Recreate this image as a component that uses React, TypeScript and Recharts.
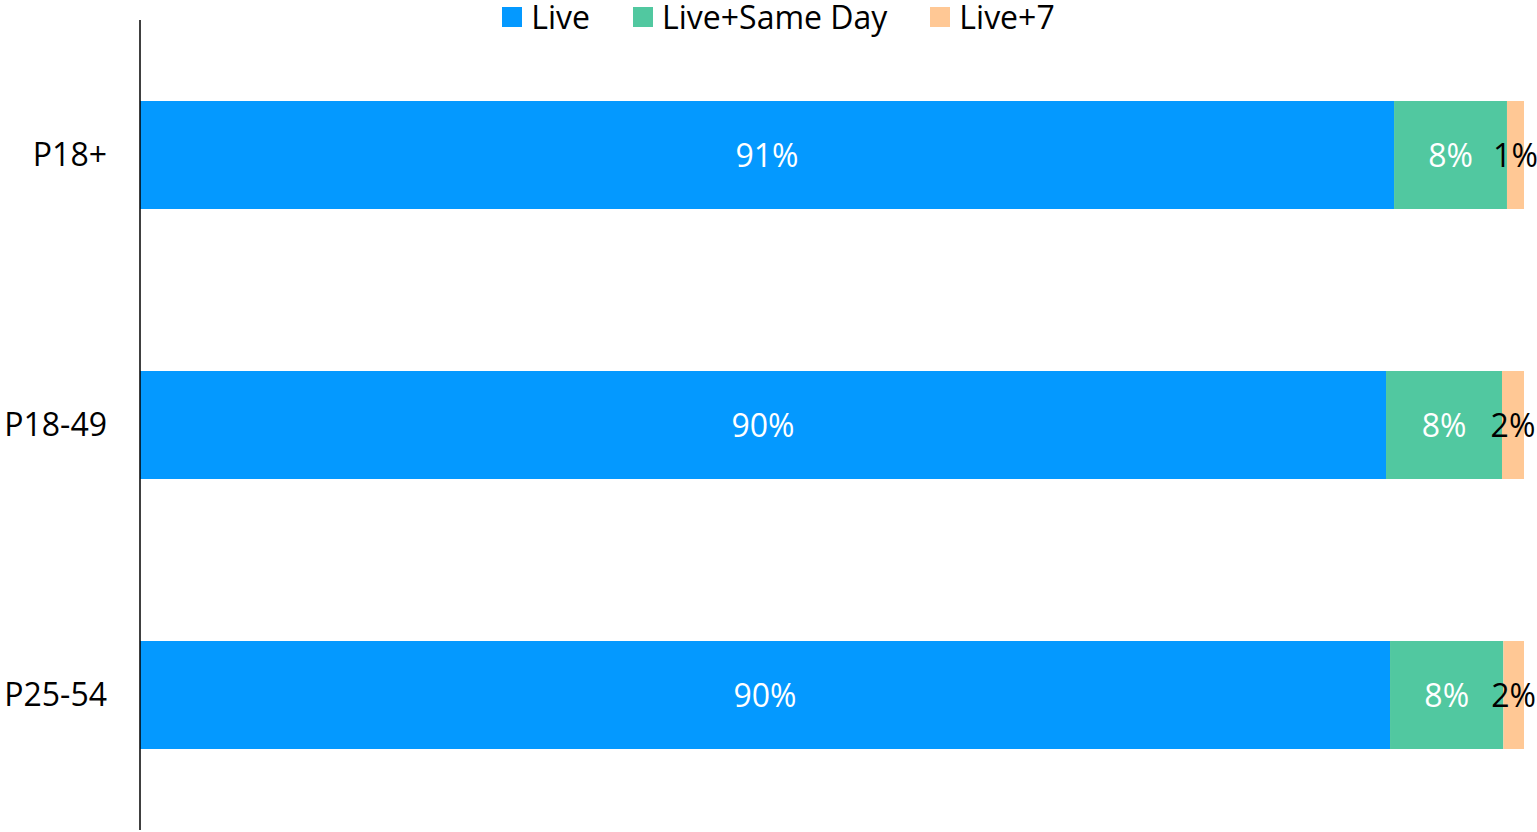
import React from 'react'
import { BarChart, Bar, XAxis, YAxis, Legend, LabelList } from 'recharts'

const categories = ['P18+', 'P18-49', 'P25-54']
const liveValues = [90.61, 90.03, 90.32]
const sameDayValues = [8.16, 8.38, 8.19]
const plus7Values = [1.23, 1.59, 1.64]

const seriesNames = ['Live', 'Live+Same Day', 'Live+7']
const colors = ['#0499FF', '#51C8A0', '#FFC895']

const data = categories.map((name, i) => ({
  name,
  live: liveValues[i],
  sameDay: sameDayValues[i],
  plus7: plus7Values[i]
}))

const fmt = (v: any) => `${Math.round(Number(v))}%`

const renderLegend = () => (
  <div style={{ display: 'flex', justifyContent: 'center', alignItems: 'center', fontSize: 32, color: '#000', lineHeight: '34px', height: 34 }}>
    {seriesNames.map((s, i) => (
      <div key={s} style={{ display: 'flex', alignItems: 'center', marginRight: i < seriesNames.length - 1 ? 43 : 0 }}>
        <span style={{ width: 20, height: 20, background: colors[i], display: 'inline-block', marginRight: 9 }} />
        <span>{s}</span>
      </div>
    ))}
  </div>
)

export default function App() {
  return (
    <div style={{ fontFamily: '"Open Sans", sans-serif' }}>
      <style>{'body { margin: 0; }'}</style>
      <BarChart
        width={1537}
        height={832}
        data={data}
        layout="vertical"
        margin={{ top: 20, right: 13, bottom: 2, left: 0 }}
        barCategoryGap="30%"
      >
        <XAxis type="number" domain={[0, 100]} allowDataOverflow hide />
        <YAxis
          type="category"
          dataKey="name"
          width={140}
          tickLine={false}
          tickSize={0}
          tickMargin={33}
          axisLine={{ stroke: '#000', strokeWidth: 1.5 }}
          tick={{ fill: '#000', fontSize: 32 }}
        />
        <Legend
          verticalAlign="middle"
          wrapperStyle={{ top: 0, left: 10, width: 1537 }}
          content={renderLegend}
        />
        <Bar dataKey="live" name="Live" stackId="a" fill={colors[0]} isAnimationActive={false}>
          <LabelList dataKey="live" position="center" formatter={fmt} fill="#fff" fontSize={32} dy={1} />
        </Bar>
        <Bar dataKey="sameDay" name="Live+Same Day" stackId="a" fill={colors[1]} isAnimationActive={false}>
          <LabelList dataKey="sameDay" position="center" formatter={fmt} fill="#fff" fontSize={32} dy={1} />
        </Bar>
        <Bar dataKey="plus7" name="Live+7" stackId="a" fill={colors[2]} isAnimationActive={false}>
          <LabelList dataKey="plus7" position="center" formatter={fmt} fill="#000" fontSize={32} dy={1} />
        </Bar>
      </BarChart>
    </div>
  )
}
